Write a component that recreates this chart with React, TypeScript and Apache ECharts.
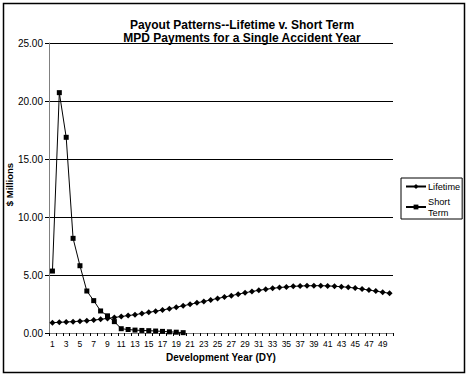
import React, { useEffect, useRef } from "react";
import * as echarts from "echarts";

const years: string[] = Array.from({ length: 50 }, (_, i) => String(i + 1));

const lifetime: number[] = [
  0.89, 0.92, 0.95, 0.98, 1.02, 1.06, 1.11, 1.18, 1.26, 1.34,
  1.42, 1.5, 1.58, 1.68, 1.78, 1.88, 1.98, 2.1, 2.22, 2.35,
  2.47, 2.6, 2.72, 2.85, 2.98, 3.1, 3.22, 3.35, 3.47, 3.58,
  3.68, 3.77, 3.85, 3.92, 3.97, 4.02, 4.05, 4.07, 4.08, 4.08,
  4.06, 4.03, 3.99, 3.94, 3.87, 3.79, 3.7, 3.61, 3.52, 3.42,
];

const shortTerm: number[] = [
  5.34, 20.72, 16.87, 8.16, 5.8, 3.62, 2.79, 1.9, 1.48, 0.98,
  0.37, 0.3, 0.25, 0.22, 0.2, 0.17, 0.14, 0.1, 0.07, 0.03,
];

const titleLines: string[] = [
  "Payout Patterns--Lifetime v. Short Term",
  "MPD Payments for a Single Accident Year",
];

const yAxisTitle = "$ Millions";
const xAxisTitle = "Development Year (DY)";

const FONT = "Liberation Sans, Arial, sans-serif";

export default function App() {
  const ref = useRef<HTMLDivElement>(null);
  useEffect(() => {
    document.body.style.margin = "0";
    const chart = echarts.init(ref.current!, null, { renderer: "svg" });
    chart.setOption({
      animation: false,
      backgroundColor: "#fff",
      textStyle: { fontFamily: FONT },
      title: {
        text: titleLines.join("\n"),
        left: 237,
        textAlign: "center",
        top: 13,
        textStyle: {
          fontFamily: FONT,
          fontSize: 12,
          fontWeight: "bold",
          color: "#000",
          lineHeight: 13,
        },
      },
      graphic: [
        {
          type: "rect",
          shape: { x: 3.5, y: 3.5, width: 461, height: 369 },
          style: { fill: "none", stroke: "#000", lineWidth: 1.5 },
          z: 100,
          silent: true,
        },
        {
          type: "text",
          x: 9,
          y: 184.5,
          rotation: Math.PI / 2,
          style: {
            text: yAxisTitle,
            fontFamily: FONT,
            fontSize: 9.5,
            fontWeight: "bold",
            fill: "#000",
            align: "center",
            verticalAlign: "middle",
          },
        },
      ],
      legend: {
        orient: "vertical",
        left: 401,
        top: 178,
        width: 64,
        padding: [3, 2, 1, 4],
        itemGap: 4,
        itemWidth: 20,
        itemHeight: 6,
        borderColor: "#000",
        borderWidth: 1,
        backgroundColor: "#fff",
        formatter: (n: string) => (n === "Short Term" ? "Short\nTerm" : n),
        textStyle: { fontFamily: FONT, fontSize: 9.2, color: "#000", lineHeight: 11, padding: [0, 0, 0, -3] },
        data: ["Lifetime", "Short Term"],
      },
      grid: { left: 49, right: 73, top: 43, bottom: 43 },
      xAxis: {
        type: "category",
        data: years,
        boundaryGap: true,
        name: xAxisTitle,
        nameLocation: "middle",
        nameGap: 19,
        nameTextStyle: { fontFamily: FONT, fontSize: 10, fontWeight: "bold", color: "#000" },
        axisLine: { show: true, lineStyle: { color: "#808080", width: 1 } },
        axisTick: { show: true, interval: 0, alignWithLabel: false, length: 3, lineStyle: { color: "#000" } },
        axisLabel: { interval: 1, fontFamily: FONT, fontSize: 8.5, color: "#000", margin: 6 },
        splitLine: { show: false },
      },
      yAxis: {
        type: "value",
        min: 0,
        max: 25,
        interval: 5,
        axisLine: { show: true, lineStyle: { color: "#808080", width: 1 } },
        axisTick: { show: true, length: 4, lineStyle: { color: "#000" } },
        axisLabel: {
          fontFamily: FONT,
          fontSize: 10,
          color: "#000",
          margin: 6,
          formatter: (v: number) => v.toFixed(2),
        },
        splitLine: { show: true, lineStyle: { color: "#000", width: 1 } },
      },
      series: [
        {
          name: "Lifetime",
          type: "line",
          data: lifetime,
          symbol: "diamond",
          symbolSize: 6,
          showAllSymbol: true,
          lineStyle: { color: "#000", width: 1 },
          itemStyle: { color: "#000" },
        },
        {
          name: "Short Term",
          type: "line",
          data: shortTerm,
          symbol: "rect",
          symbolSize: 5,
          showAllSymbol: true,
          lineStyle: { color: "#000", width: 1 },
          itemStyle: { color: "#000" },
        },
      ],
    });
    return () => chart.dispose();
  }, []);
  return <div ref={ref} style={{ width: 466, height: 376 }} />;
}
